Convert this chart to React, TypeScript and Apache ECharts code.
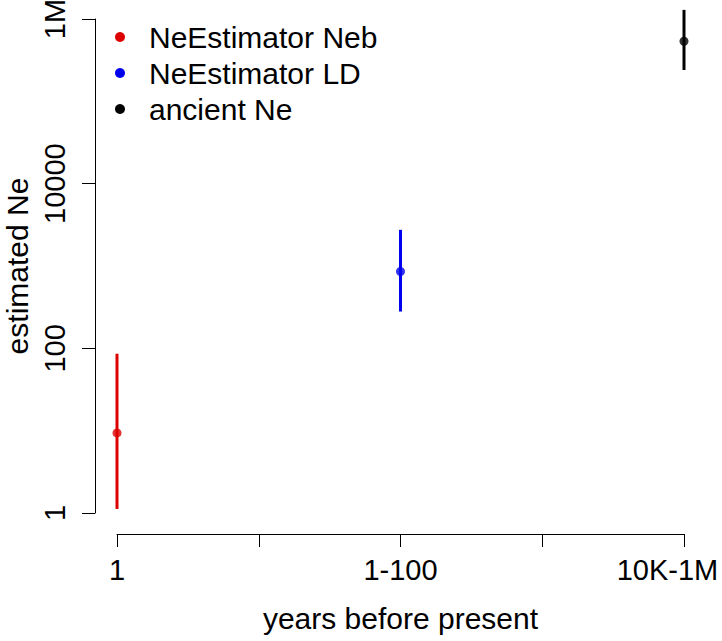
import React, { useEffect, useRef } from "react";
import * as echarts from "echarts";

const categories = ["1", "1-100", "10K-1M"];
const xPositions = [1, 2, 3];
const seriesNames = ["NeEstimator Neb", "NeEstimator LD", "ancient Ne"];
const estimates = [9.4, 857, 537000];
const lowerBounds = [1.12, 280, 240000];
const upperBounds = [86, 2750, 1290000];
const colors = ["#dd0000", "#0000ee", "#000000"];
const yTickValues = [1, 100, 10000, 1000000];
const yTickLabels = ["1", "100", "10000", "1M"];

const FONT = "'Liberation Sans', Arial, Helvetica, sans-serif";
const FS = 29;
const FT = 30;

export default function App() {
  const ref = useRef<HTMLDivElement>(null);
  useEffect(() => {
    if (!ref.current) return;
    const chart = echarts.init(ref.current, undefined, { renderer: "svg" });
    const xLabel = (v: number) => {
      const i = xPositions.indexOf(v);
      if (i < 0) return "";
      if (i === xPositions.length - 1) return `{a|${categories[i]}}{s|}`;
      return categories[i];
    };
    const yLabel = (v: number) => {
      const i = yTickValues.findIndex((t) => Math.abs(Math.log10(t) - Math.log10(v)) < 1e-6);
      return i >= 0 ? yTickLabels[i] : "";
    };
    const scatterSeries = seriesNames.map((name, i) => ({
      type: "scatter",
      name,
      data: [[xPositions[i], estimates[i]]],
      symbol: "circle",
      symbolSize: 9,
      itemStyle: { color: colors[i] },
      z: 3,
    }));
    const errorData = xPositions.map((x, i) => [x, lowerBounds[i], upperBounds[i], i]);
    const legendGraphics: any[] = [];
    seriesNames.forEach((name, i) => {
      const cy = 37 + i * 36;
      legendGraphics.push({
        type: "circle",
        shape: { cx: 120, cy, r: 5 },
        style: { fill: colors[i] },
      });
      legendGraphics.push({
        type: "text",
        x: 149,
        y: cy,
        style: {
          text: name,
          fill: "#000",
          font: `${FT}px ${FONT}`,
          verticalAlign: "middle",
        },
      });
    });
    chart.setOption({
      animation: false,
      backgroundColor: "#ffffff",
      textStyle: { fontFamily: FONT },
      grid: {
        left: 117,
        right: 38,
        top: 19,
        bottom: 128,
        containLabel: false,
        outerBoundsMode: "none",
      },
      xAxis: {
        type: "value",
        min: 1,
        max: 3,
        interval: 0.5,
        offset: 21,
        axisLine: { show: true, lineStyle: { color: "#000", width: 1 } },
        axisTick: { show: true, length: 13, lineStyle: { color: "#000", width: 1 } },
        splitLine: { show: false },
        axisLabel: {
          formatter: xLabel,
          color: "#000",
          fontSize: FS,
          fontFamily: FONT,
          margin: 21,
          showMinLabel: true,
          showMaxLabel: true,
          alignMinLabel: "center",
          alignMaxLabel: "center",
          hideOverlap: false,
          rich: {
            a: { fontSize: FS, fontFamily: FONT, color: "#000" },
            s: { width: 33 },
          },
        },
        name: "years before present",
        nameLocation: "middle",
        nameGap: 69,
        nameTextStyle: { color: "#000", fontSize: FT, fontFamily: FONT },
      },
      yAxis: {
        type: "log",
        logBase: 10,
        min: 1,
        max: 1000000,
        interval: 2,
        offset: 22,
        axisLine: { show: true, lineStyle: { color: "#000", width: 1 } },
        axisTick: { show: true, length: 13, lineStyle: { color: "#000", width: 1 } },
        minorTick: { show: false },
        splitLine: { show: false },
        axisLabel: {
          formatter: yLabel,
          rotate: 90,
          color: "#000",
          fontSize: FS,
          fontFamily: FONT,
          margin: 26,
          showMinLabel: true,
          showMaxLabel: true,
          alignMinLabel: "center",
          alignMaxLabel: "center",
        },
        name: "estimated Ne",
        nameLocation: "middle",
        nameRotate: 90,
        nameGap: 62,
        nameTextStyle: { color: "#000", fontSize: FT, fontFamily: FONT },
      },
      graphic: legendGraphics,
      series: [
        {
          type: "custom",
          clip: false,
          z: 2,
          data: errorData,
          encode: { x: 0, y: [1, 2] },
          renderItem: (params: any, api: any) => {
            const x = api.value(0);
            const lo = api.coord([x, api.value(1)]);
            const hi = api.coord([x, api.value(2)]);
            const idx = api.value(3);
            return {
              type: "line",
              shape: { x1: lo[0], y1: lo[1], x2: hi[0], y2: hi[1] },
              style: { stroke: colors[idx], lineWidth: 3 },
            };
          },
        },
        ...scatterSeries,
      ],
    });
    return () => chart.dispose();
  }, []);
  return (
    <div
      ref={ref}
      style={{ position: "fixed", left: 0, top: 0, width: 722, height: 641 }}
    />
  );
}
